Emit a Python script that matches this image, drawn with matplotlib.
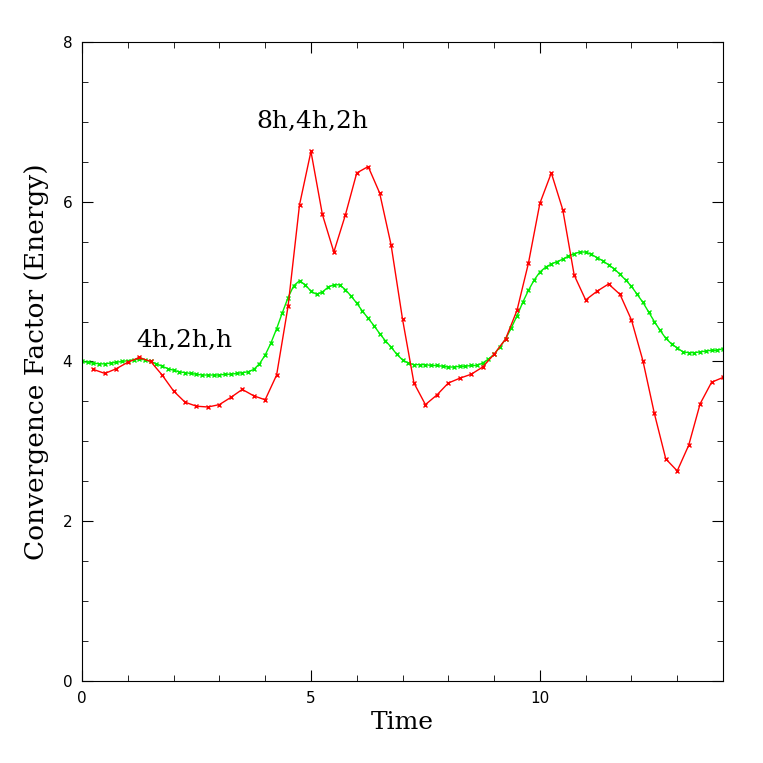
import numpy as np
import matplotlib
matplotlib.use('Agg')
import matplotlib.pyplot as plt
from matplotlib.ticker import MultipleLocator

# red series: 8h,4h,2h, sampled every 0.25
t_red = np.arange(1, 57) * 0.25
cf_red = [3.90, 3.85, 3.91, 3.99, 4.05, 4.00, 3.83, 3.63, 3.49, 3.44,
          3.43, 3.46, 3.55, 3.65, 3.57, 3.52, 3.83, 4.69, 5.96, 6.63,
          5.84, 5.37, 5.83, 6.36, 6.44, 6.11, 5.46, 4.53, 3.73, 3.46,
          3.58, 3.73, 3.79, 3.84, 3.93, 4.09, 4.28, 4.64, 5.23, 5.98,
          6.36, 5.90, 5.08, 4.77, 4.88, 4.97, 4.84, 4.52, 4.01, 3.35,
          2.78, 2.63, 2.95, 3.47, 3.74, 3.80]

# green series: 4h,2h,h, sampled every 0.125
t_green = np.arange(0, 113) * 0.125
cf_green = [4.00, 3.99, 3.98, 3.97, 3.97, 3.98, 3.99, 4.00, 4.01, 4.02,
            4.03, 4.02, 4.00, 3.97, 3.94, 3.91, 3.89, 3.87, 3.86, 3.85,
            3.84, 3.83, 3.83, 3.83, 3.83, 3.84, 3.84, 3.85, 3.86, 3.87,
            3.90, 3.97, 4.08, 4.23, 4.41, 4.61, 4.80, 4.95, 5.01, 4.96,
            4.88, 4.84, 4.87, 4.93, 4.96, 4.96, 4.90, 4.82, 4.73, 4.63,
            4.54, 4.45, 4.35, 4.26, 4.18, 4.09, 4.02, 3.98, 3.96, 3.96,
            3.96, 3.95, 3.95, 3.94, 3.93, 3.93, 3.94, 3.94, 3.95, 3.95,
            3.98, 4.03, 4.09, 4.18, 4.28, 4.42, 4.57, 4.74, 4.89, 5.02,
            5.12, 5.18, 5.22, 5.25, 5.28, 5.32, 5.35, 5.37, 5.37, 5.34,
            5.30, 5.26, 5.21, 5.16, 5.09, 5.02, 4.94, 4.84, 4.74, 4.62,
            4.50, 4.39, 4.29, 4.22, 4.17, 4.12, 4.11, 4.11, 4.12, 4.13,
            4.14, 4.14, 4.16]

fig = plt.figure(figsize=(7.63, 7.63), dpi=100)
ax = fig.add_axes([0.1075, 0.1075, 0.8401, 0.8375])

ax.plot(t_green, cf_green, color='#00ee00', lw=1, marker='x', ms=3.5, mew=1)
ax.plot(t_red, cf_red, color='#ff0000', lw=1, marker='x', ms=3.5, mew=1)

ax.set_xlim(0, 14)
ax.set_ylim(0, 8)
ax.xaxis.set_major_locator(MultipleLocator(5))
ax.xaxis.set_minor_locator(MultipleLocator(1))
ax.yaxis.set_major_locator(MultipleLocator(2))
ax.yaxis.set_minor_locator(MultipleLocator(0.5))
ax.tick_params(which='both', direction='in', top=True, right=True,
               labelsize=11, pad=7)
ax.tick_params(which='major', length=8)
ax.tick_params(which='minor', length=4)

ax.set_xlabel('Time', family='DejaVu Serif', fontsize=18)
ax.set_ylabel('Convergence Factor (Energy)', family='DejaVu Serif',
              fontsize=19, labelpad=10)

ax.text(1.18, 4.26, '4h,2h,h', family='DejaVu Serif', fontsize=18, va='center')
ax.text(3.80, 7.0, '8h,4h,2h', family='DejaVu Serif', fontsize=18, va='center')

fig.savefig('out.png', dpi=100)
